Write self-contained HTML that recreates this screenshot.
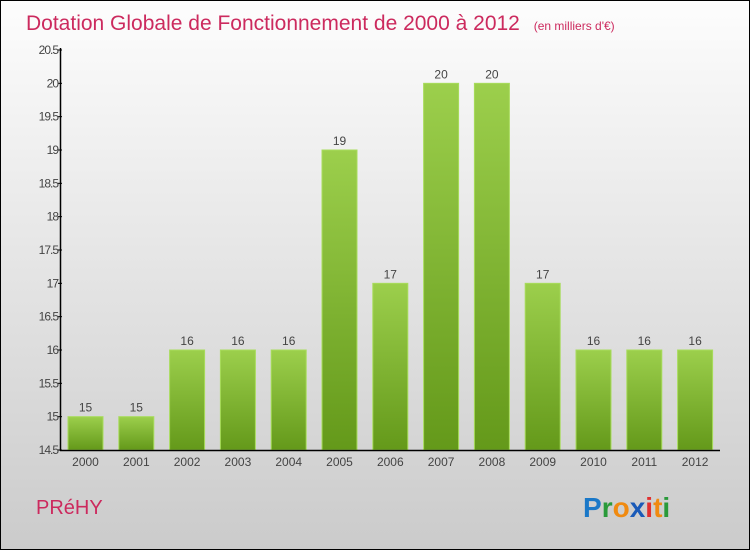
<!DOCTYPE html>
<html><head><meta charset="utf-8"><style>
body{margin:0}
svg text{font-family:"Liberation Sans",sans-serif}
</style></head><body>
<svg width="750" height="550" xmlns="http://www.w3.org/2000/svg">
<defs>
<linearGradient id="bg" x1="0" y1="0" x2="0" y2="1"><stop offset="0" stop-color="#fdfdfd"/><stop offset="1" stop-color="#cbcbcb"/></linearGradient>
<linearGradient id="bar" x1="0" y1="0" x2="0" y2="1"><stop offset="0" stop-color="#9ccf4c"/><stop offset="1" stop-color="#64991a"/></linearGradient>
</defs>
<rect x="0.5" y="0.5" width="749" height="549" fill="url(#bg)" stroke="#000"/>
<text x="26" y="30" font-size="21" fill="#cc2a5e">Dotation Globale de Fonctionnement de 2000 à 2012 <tspan font-size="12" dx="8">(en milliers d'€)</tspan></text>
<g id="plot"></g>
<text x="36" y="514" font-size="20" fill="#cc2a5e">PRéHY</text>
<text x="583" y="517" font-size="28" font-weight="bold"><tspan fill="#1a78c8">P</tspan><tspan fill="#2a9a3a">r</tspan><tspan fill="#f08a10">o</tspan><tspan fill="#1a5ab8">x</tspan><tspan fill="#e03030">i</tspan><tspan fill="#f08a10">t</tspan><tspan fill="#2a9a3a">i</tspan></text>
</svg>
<script>
const categories=["2000","2001","2002","2003","2004","2005","2006","2007","2008","2009","2010","2011","2012"];
const values=[15,15,16,16,16,19,17,20,20,17,16,16,16];
const yTicks=["14.5","15","15.5","16","16.5","17","17.5","18","18.5","19","19.5","20","20.5"];
const NS="http://www.w3.org/2000/svg";
const g=document.getElementById('plot');
const y0=450,y1=50,vmin=14.5,vmax=20.5;
const y=v=>y0-(v-vmin)/(vmax-vmin)*(y0-y1);
const x=i=>85.5+i*50.8;
function mk(t,a,txt){const e=document.createElementNS(NS,t);for(const k in a)e.setAttribute(k,a[k]);if(txt!==undefined)e.textContent=txt;g.appendChild(e);return e;}
values.forEach((v,i)=>{
 const r=mk('rect',{x:x(i)-17.5,y:y(v),width:35,height:y0-y(v),fill:'url(#bar)',stroke:'#a8dc5c','stroke-width':1});
 
 
 const l=mk('text',{x:x(i),y:y(v)-5,'font-size':12,fill:'#444','text-anchor':'middle'},String(v));
 
 
 const c=mk('text',{x:x(i),y:466,'font-size':12,fill:'#444','text-anchor':'middle'},categories[i]);
 
 
});
yTicks.forEach(t=>{
 const yy=y(parseFloat(t));
 const tk=mk('line',{x1:58,x2:62,y1:yy,y2:yy,stroke:'#000'});
 
 
 const tl=mk('text',{x:58,y:yy+4,'font-size':12,fill:'#444','text-anchor':'end','letter-spacing':'-1'},t);
 
 
});
const ya=mk('line',{x1:60.5,x2:60.5,y1:48,y2:451,stroke:'#000','stroke-width':1.5});


const xa=mk('line',{x1:60,x2:720,y1:450.5,y2:450.5,stroke:'#000','stroke-width':1.5});


</script>
</body></html>
